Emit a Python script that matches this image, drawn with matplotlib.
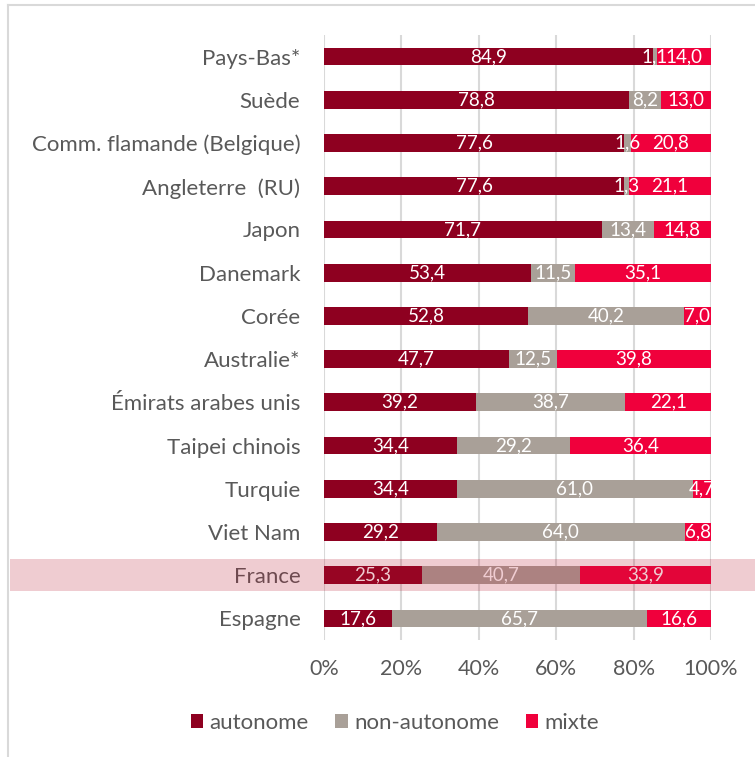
import matplotlib.pyplot as plt
import numpy as np
from matplotlib.patches import Rectangle, Patch
from matplotlib.lines import Line2D

countries = ["Pays-Bas*", "Suède", "Comm. flamande (Belgique)", "Angleterre  (RU)",
             "Japon", "Danemark", "Corée", "Australie*", "Émirats arabes unis",
             "Taipei chinois", "Turquie", "Viet Nam", "France", "Espagne"]
autonome = [84.9, 78.8, 77.6, 77.6, 71.7, 53.4, 52.8, 47.7, 39.2, 34.4, 34.4, 29.2, 25.3, 17.6]
non_autonome = [1.1, 8.2, 1.6, 1.3, 13.4, 11.5, 40.2, 12.5, 38.7, 29.2, 61.0, 64.0, 40.7, 65.7]
mixte = [14.0, 13.0, 20.8, 21.1, 14.8, 35.1, 7.0, 39.8, 22.1, 36.4, 4.7, 6.8, 33.9, 16.6]
series = ["autonome", "non-autonome", "mixte"]
colors = ["#8E0020", "#A9A098", "#F0003C"]
highlight = "France"


def main():
    plt.rcParams['font.family'] = ['Lato', 'DejaVu Sans']
    fig = plt.figure(figsize=(7.55, 7.57), dpi=100)
    W, H = 755, 757
    ax = fig.add_axes([324 / W, 1 - 640 / H, (711 - 324) / W, (640 - 35) / H])

    data = np.array([autonome, non_autonome, mixte])
    pct = data / data.sum(axis=0) * 100
    y = np.arange(len(countries))
    left = np.zeros(len(countries))
    for vals, raw, col, name in zip(pct, data, colors, series):
        ax.barh(y, vals, left=left, height=0.41, color=col, label=name, zorder=2)
        for yi, l, v, r in zip(y, left, vals, raw):
            ax.text(l + v / 2, yi, f"{r:.1f}".replace(".", ","), ha="center", va="center",
                    color="white", fontsize=13.5, zorder=3)
        left += vals

    ax.set_xlim(0, 100)
    ax.set_ylim(len(countries) - 0.5, -0.5)
    ax.set_xticks(np.arange(0, 101, 20))
    ax.set_xticklabels([f"{t}%" for t in range(0, 101, 20)], fontsize=15.5, color="#595959")
    ax.set_yticks(y)
    ax.set_yticklabels(countries, fontsize=16, color="#595959")
    ax.tick_params(length=0, pad=17)
    ax.tick_params(axis="x", pad=14)
    ax.grid(axis="x", color="#D9D9D9", lw=1.5, zorder=0)
    for s in ax.spines.values():
        s.set_visible(False)

    # frame of the chart area
    fig.add_artist(Line2D([8 / W, 8 / W], [0, 1 - 5 / H], color="#D9D9D9", lw=1.5))
    fig.add_artist(Line2D([8 / W, 1], [1 - 5 / H, 1 - 5 / H], color="#D9D9D9", lw=1.5))

    # translucent highlight band over France
    i = countries.index(highlight)
    yc = 1 - (57 + i * 43.15) / H
    fig.add_artist(Rectangle((10 / W, yc - 16 / H), 1, 32 / H,
                             facecolor="#B91830", alpha=0.22, edgecolor="none", zorder=10))

    handles = [Patch(facecolor=c, label=n) for c, n in zip(colors, series)]
    fig.legend(handles=handles, loc="center", bbox_to_anchor=(395 / W, 1 - 723 / H),
               ncol=3, frameon=False, fontsize=16, handlelength=0.55, handleheight=0.6,
               handletextpad=0.3, columnspacing=1.2, labelcolor="#595959")

    fig.savefig("out.png", dpi=100)


if __name__ == "__main__":
    main()
